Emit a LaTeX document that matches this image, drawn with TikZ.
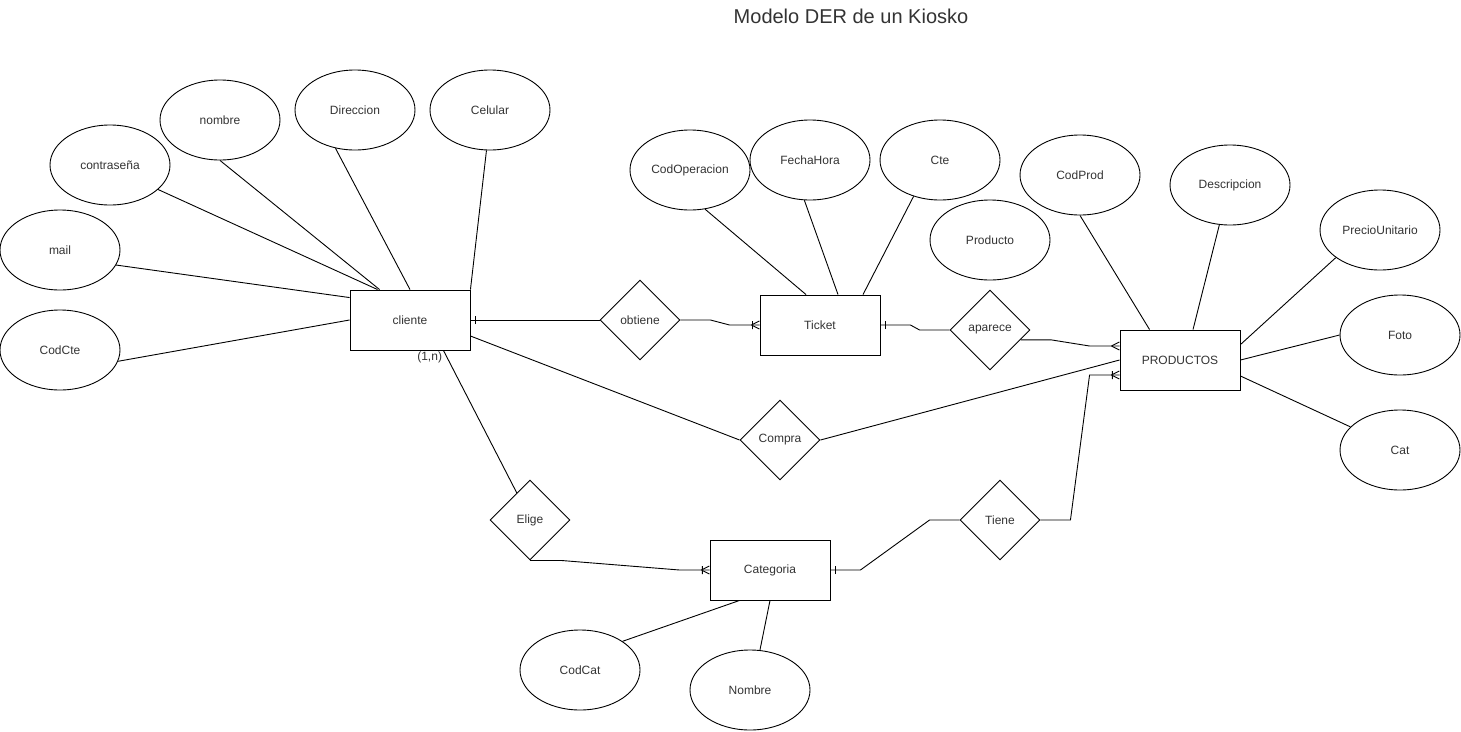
\documentclass[tikz,border=0pt]{standalone}
\usepackage{fontspec}
\setmainfont{Liberation Sans}
\usetikzlibrary{shapes.geometric,decorations.markings}

\begin{document}
\begin{tikzpicture}[x=1pt,y=-1pt,line width=0.9pt,
  every node/.style={font=\fontsize{12}{14}\selectfont,text=black!80},
  entidad/.style={draw,rectangle,minimum width=120,minimum height=60,inner sep=0pt},
  atrib/.style={draw,ellipse,minimum width=120,minimum height=80,inner sep=1pt},
  relac/.style={draw,diamond,aspect=1,minimum width=80,minimum height=80,inner sep=0pt},
  uno/.style={postaction={decorate,decoration={markings,
      mark=at position 5pt with {\draw (0,-4pt) -- (0,4pt);}}}},
  unomuchos/.style={postaction={decorate,decoration={markings,
      mark=at position 0.999 with {\draw (-8pt,0) -- (0,4pt) (-8pt,0) -- (0,-4pt) (-7pt,-4pt) -- (-7pt,4pt);}}}},
  muchos/.style={postaction={decorate,decoration={markings,
      mark=at position 0.999 with {\draw (-8pt,0) -- (0,4pt) (-8pt,0) -- (0,-4pt);}}}}]
  \useasboundingbox (0,0) rectangle (1461,731);

  \draw (851,16) node[font=\fontsize{20}{24}\selectfont] (titulo) {Modelo DER de un Kiosko};

  % entidades
  \draw (410,320) node[entidad] (cliente) {cliente};
  \draw (820,325) node[entidad] (Ticket) {Ticket};
  \draw (1180,360) node[entidad] (PRODUCTOS) {PRODUCTOS};
  \draw (770,570) node[entidad] (Categoria) {Categoria};

  % relaciones
  \draw (640,320) node[relac] (obtiene) {obtiene};
  \draw (990,330) node[relac] (aparece) {aparece};
  \draw (780,440) node[relac] (Compra) {Compra};
  \draw (530,520) node[relac] (Elige) {Elige};
  \draw (1000,520) node[relac] (Tiene) {Tiene};

  % atributos cliente
  \draw (110,165) node[atrib] (contrasena) {contraseña};
  \draw (220,120) node[atrib] (nombre) {nombre};
  \draw (355,110) node[atrib] (Direccion) {Direccion};
  \draw (490,110) node[atrib] (Celular) {Celular};
  \draw (60,250) node[atrib] (mail) {mail};
  \draw (60,350) node[atrib] (CodCte) {CodCte};

  % atributos Ticket
  \draw (690,170) node[atrib] (CodOperacion) {CodOperacion};
  \draw (810,160) node[atrib] (FechaHora) {FechaHora};
  \draw (940,160) node[atrib] (Cte) {Cte};
  \draw (990,240) node[atrib] (Producto) {Producto};

  % atributos PRODUCTOS
  \draw (1080,175) node[atrib] (CodProd) {CodProd};
  \draw (1230,185) node[atrib] (Descripcion) {Descripcion};
  \draw (1380,230) node[atrib] (PrecioUnitario) {PrecioUnitario};
  \draw (1400,335) node[atrib] (Foto) {Foto};
  \draw (1400,450) node[atrib] (Cat) {Cat};

  % atributos Categoria
  \draw (580,670) node[atrib] (CodCat) {CodCat};
  \draw (750,690) node[atrib] (NombreCat) {Nombre};

  \path[-] (contrasena.-27) edge ([xshift=28]cliente.north west);
  \path[-] (nombre.south) edge ([xshift=30]cliente.north west);
  \path[-] (Direccion.-117) edge (cliente.north);
  \path[-] (Celular.-95) edge (cliente.north east);
  \path[-] (mail.-15) edge ([yshift=-8]cliente.north west);
  \path[-] (CodCte.-11) edge (cliente.west);

  \path[-] (CodOperacion.-69) edge ([xshift=-14]Ticket.north);
  \path[-] (FechaHora.-98) edge ([xshift=18]Ticket.north);
  \path[-] (Cte.-126) edge ([xshift=43]Ticket.north);

  \path[-] (CodProd.south) edge ([xshift=30]PRODUCTOS.north west);
  \path[-] (Descripcion.-105) edge ([xshift=13]PRODUCTOS.north);
  \path[-] (PrecioUnitario.-148) edge ([yshift=-15]PRODUCTOS.north east);
  \path[-] (Foto.west) edge (PRODUCTOS.east);
  \path[-] (Cat.155) edge ([yshift=-16]PRODUCTOS.east);

  \path[-] (CodCat.34) edge ([xshift=30]Categoria.south west);
  \path[-] (NombreCat.76) edge (Categoria.south);

  % conectores de las relaciones
  \draw[uno] (cliente.east) -- (obtiene.west);
  \draw[unomuchos] (obtiene.east) -- ++(30,0) -- ([xshift=-30]Ticket.west) -- (Ticket.west);
  \draw[uno] (Ticket.east) -- ++(30,0) -- ([xshift=-30]aparece.west) -- (aparece.west);
  \draw[muchos] (aparece.-18) -- ++(31,0) -- ([xshift=-30,yshift=14]PRODUCTOS.west) -- ([yshift=14]PRODUCTOS.west);
  \draw ([yshift=-16]cliente.east) -- (Compra.west);
  \draw (Compra.east) -- (PRODUCTOS.west);
  \draw ([xshift=-27]cliente.south east) -- (Elige.116) node[pos=0,anchor=north east,inner sep=1pt] {(1,n)};
  \draw[unomuchos] (Elige.south) -- ++(31,0) -- ([xshift=-30]Categoria.west) -- (Categoria.west);
  \draw[uno] (Categoria.east) -- ++(30,0) -- ([xshift=-30]Tiene.west) -- (Tiene.west);
  \draw[unomuchos] (Tiene.east) -- ++(30,0) -- ([xshift=-30,yshift=-15]PRODUCTOS.west) -- ([yshift=-15]PRODUCTOS.west);

\end{tikzpicture}
\end{document}
